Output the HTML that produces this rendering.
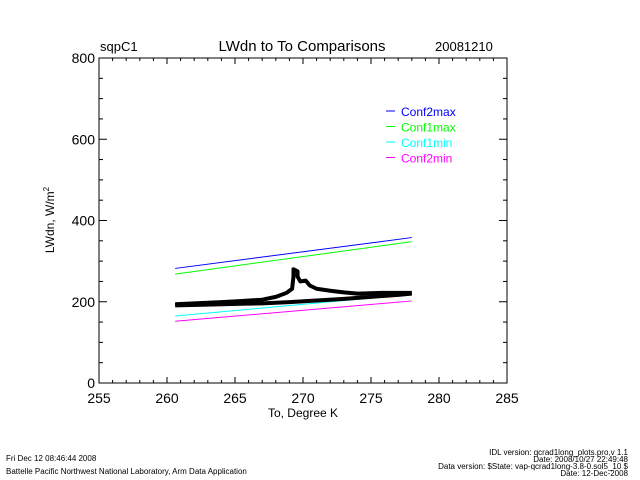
<!DOCTYPE html>
<html><head><meta charset="utf-8"><style>
html,body{margin:0;padding:0;background:#fff;}
svg{display:block;font-family:"Liberation Sans",sans-serif;}
</style></head><body>
<svg id="chart" width="640" height="480" xmlns="http://www.w3.org/2000/svg">
<text x="100" y="51" font-size="13">sqpC1</text>
<text x="302" y="51" font-size="15" text-anchor="middle">LWdn to To Comparisons</text>
<text x="435" y="51" font-size="13">20081210</text>
<g id="axes"></g>
<g id="series"></g>
<text x="303" y="417" font-size="12" text-anchor="middle">To, Degree K</text>
<text transform="translate(54,220) rotate(-90)" font-size="12" text-anchor="middle">LWdn, W/m<tspan font-size="8" dy="-5">2</tspan></text>
<g font-size="8">
<text x="6" y="461">Fri Dec 12 08:46:44 2008</text>
<text x="6" y="474">Battelle Pacific Northwest National Laboratory, Arm Data Application</text>
<text x="628" y="455" text-anchor="end">IDL version: qcrad1long_plots.pro,v 1.1</text>
<text x="628" y="462" text-anchor="end">Date: 2008/10/27 22:49:48</text>
<text x="628" y="469" text-anchor="end">Data version: $State: vap-qcrad1long-3.8-0.sol5_10 $</text>
<text x="628" y="476" text-anchor="end">Date: 12-Dec-2008</text>
</g>
</svg>
<script>
const xTicks=[255,260,265,270,275,280,285];
const yTicks=[0,200,400,600,800];
const seriesNames=["Conf2max","Conf1max","Conf1min","Conf2min"];
const seriesColors=["#0000ff","#00ff00","#00ffff","#ff00ff"];
const lineX=[260.6,278];
const conf2max=[282,358];
const conf1max=[268,348];
const conf1min=[165,218];
const conf2min=[152,202];
const upperBranch=[[260.6,194],[262,196],[264,199],[265.5,202],[267,205],[268,212],[268.8,222],[269.2,232],[269.3,262],[269.3,280],[269.6,275],[269.6,262],[269.8,250],[270.2,252],[270.5,240],[271,232],[272,227],[273,223],[274,220],[276,222],[278,222]];
const lowerBranch=[[260.6,191],[263,193],[265.5,195],[267,196],[269,199],[271,203],[273,207],[275,212],[277,217],[278,220]];
const NS="http://www.w3.org/2000/svg";
const X0=99,X1=507,Y0=383,Y1=58;
function sx(v){return X0+(v-255)/30*(X1-X0);}
function sy(v){return Y0-v/800*(Y0-Y1);}
function mk(t,a,p){const e=document.createElementNS(NS,t);for(const k in a)e.setAttribute(k,a[k]);p.appendChild(e);return e;}
const ax=document.getElementById('axes');
const frame=mk('rect',{x:X0,y:Y1,width:X1-X0,height:Y0-Y1,fill:'none',stroke:'#000','stroke-width':1},ax);


for(let v=255;v<=285;v+=1){const maj=v%5===0,L=maj?6:3,x=sx(v);
 mk('line',{x1:x,x2:x,y1:Y0,y2:Y0-L,stroke:'#000'},ax);
 mk('line',{x1:x,x2:x,y1:Y1,y2:Y1+L,stroke:'#000'},ax);}
for(let v=0;v<=800;v+=50){const maj=v%200===0,L=maj?8:4,y=sy(v);
 mk('line',{x1:X0,x2:X0+L,y1:y,y2:y,stroke:'#000'},ax);
 mk('line',{x1:X1,x2:X1-L,y1:y,y2:y,stroke:'#000'},ax);}
xTicks.forEach(v=>{const t=mk('text',{x:sx(v),y:Y0+20,'font-size':14,'text-anchor':'middle'},ax);t.textContent=v;
 
 });
yTicks.forEach(v=>{const t=mk('text',{x:X0-4,y:sy(v)+5,'font-size':14,'text-anchor':'end'},ax);t.textContent=v;
 
 });
const sg=document.getElementById('series');
[conf2max,conf1max,conf1min,conf2min].forEach((s,i)=>{
 const l=mk('line',{x1:sx(lineX[0]),y1:sy(s[0]),x2:sx(lineX[1]),y2:sy(s[1]),stroke:seriesColors[i],'stroke-width':1},sg);
 
 });
[upperBranch,lowerBranch].forEach((b,i)=>{
 const p=mk('polyline',{points:b.map(d=>sx(d[0])+','+sy(d[1])).join(' '),fill:'none',stroke:'#000','stroke-width':4,'stroke-linejoin':'round'},sg);
 
 });
seriesNames.forEach((n,i)=>{const y=111+i*15.5;
 const g=mk('g',{},sg);
 
 
 mk('line',{x1:386,x2:395,y1:y,y2:y,stroke:seriesColors[i]},g);
 const t=mk('text',{x:401,y:y+5,'font-size':12,fill:seriesColors[i]},g);t.textContent=n;});
</script>
</body></html>
